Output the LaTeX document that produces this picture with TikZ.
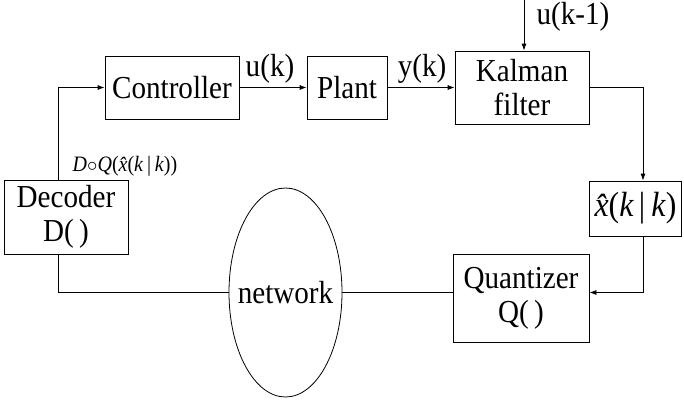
\documentclass[tikz,border=0pt]{standalone}
\usepackage{fontspec}
\setmainfont[FakeStretch=0.91]{Liberation Serif}
\usetikzlibrary{shapes.geometric,arrows.meta}
\begin{document}
\begin{tikzpicture}[x=1pt,y=-1pt,
  every node/.style={font=\fontsize{32}{37}\selectfont},
  blk/.style={draw, line width=0.8pt, inner sep=0pt, align=center},
  wire/.style={line width=0.8pt},
  arr/.style={wire, -{Latex[length=7pt,width=5pt]}}]
\useasboundingbox (0,0) rectangle (684,399);
% blocks
\node[blk, minimum width=134pt, minimum height=63pt] (ctrl) at (172,87.5) {Controller};
\node[blk, minimum width=80pt, minimum height=63pt] (plant) at (347,87.5) {Plant};
\node[blk, minimum width=134pt, minimum height=73pt] (kf) at (522,87.5) {Kalman\\[-3pt]filter};
\node[blk, minimum width=92pt, minimum height=55pt, font=\fontsize{35}{40}\selectfont] (xh) at (635.5,208.5) {{\itshape\^{x}}(\textit{k}\kern5pt|\kern6pt\textit{k})};
\node[blk, minimum width=136pt, minimum height=88pt] (quant) at (521,298) {Quantizer\\[-3pt]Q(\,)};
\node[blk, minimum width=124pt, minimum height=74pt] (dec) at (66,217) {Decoder\\[-3pt]D(\,)};
% network cloud: an empty ellipse with its caption centred on it
\node[draw, line width=0.8pt, ellipse, inner sep=0pt, minimum width=113pt, minimum height=209pt] (net) at (285.5,292.5) {};
\node (nettext) at (net.center) {network};
% signal labels
\node (uk) at (270,69) {u(k)};
\node (yk) at (422,69) {y(k)};
\node (ukm) at (573,17) {u(k-1)};
\node[font=\fontsize{22}{26}\selectfont] (dq) at (125,166) {\textit{D}$\circ$\textit{Q}({\itshape\^{x}}(\textit{k}\,|\,\textit{k}))};
\coordinate (uin) at (524,0);
% connections
\draw[arr] (ctrl.east) -- (plant.west);
\draw[arr] (plant.east) -- (kf.west);
\draw[arr] (uin) -- (uin |- kf.north);
\draw[arr] (kf.east) -| ([xshift=7.5pt]xh.north);
\draw[arr] ([xshift=7.5pt]xh.south) |- (net.east -| quant.east);
\draw[wire] (net.east) -- (net.east -| quant.west);
\draw[wire] ([xshift=-8pt]dec.south) |- (net.west);
\draw[arr] ([xshift=-8pt]dec.north) |- (ctrl.west);
\end{tikzpicture}
\end{document}
